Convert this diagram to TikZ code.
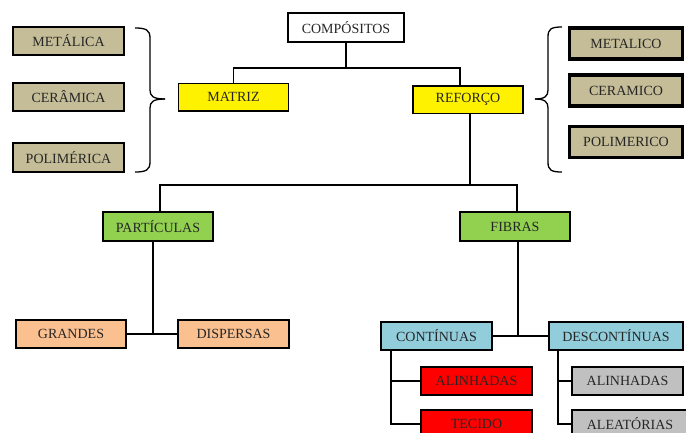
\documentclass[tikz,border=0pt]{standalone}
\usepackage{fontspec}
\setmainfont{Liberation Serif}
\definecolor{tanfill}{HTML}{C4BD97}
\definecolor{greenfill}{HTML}{92D050}
\definecolor{peachfill}{HTML}{FAC090}
\definecolor{bluefill}{HTML}{92CDDC}
\definecolor{grayfill}{HTML}{C0C0C0}
\definecolor{txt}{HTML}{262626}
\begin{document}
\begin{tikzpicture}[x=1pt,y=-1pt,
  basebox/.style={draw=black, line width=1.5pt, inner sep=0pt, text=txt,
    font=\fontsize{14}{15}\selectfont, minimum height=28pt},
  whitebox/.style={basebox, fill=white, minimum width=116pt, minimum height=29pt},
  tanbox/.style={basebox, fill=tanfill, minimum width=111pt},
  thickbox/.style={basebox, fill=tanfill, line width=3.2pt, minimum width=113pt, minimum height=31pt},
  yellowbox/.style={basebox, fill=yellow, minimum width=110pt, minimum height=27.5pt},
  greenbox/.style={basebox, fill=greenfill, minimum width=110pt, minimum height=29pt},
  peachbox/.style={basebox, fill=peachfill, minimum width=110pt},
  bluebox/.style={basebox, fill=bluefill, minimum width=111pt},
  redbox/.style={basebox, fill=red, minimum width=111pt},
  graybox/.style={basebox, fill=grayfill, minimum width=111pt},
  link/.style={draw=black, line width=1.4pt},
  bracepath/.style={draw=black, line width=1.3pt}]
\useasboundingbox (0,0) rectangle (686,432);
\clip (0,0) rectangle (686,432);
\fill[white] (0,0) rectangle (686,432);

% nodes
\node[whitebox] (comp) at (346,27.5) {COMPÓSITOS};
\node[tanbox] (metA) at (68.5,41) {METÁLICA};
\node[tanbox] (cerA) at (68.5,97) {CERÂMICA};
\node[tanbox, minimum height=29pt] (polA) at (68.5,157.5) {POLIMÉRICA};
\node[yellowbox] (mat) at (233.5,97) {MATRIZ};
\node[yellowbox] (ref) at (468,99.5) {REFORÇO};
\node[thickbox] (metB) at (626,43.5) {METALICO};
\node[thickbox] (cerB) at (626,90.5) {CERAMICO};
\node[thickbox] (polB) at (626,142) {POLIMERICO};
\node[greenbox] (part) at (158,226.5) {PARTÍCULAS};
\node[greenbox] (fib) at (515,226.5) {FIBRAS};
\node[peachbox] (gra) at (71,334) {GRANDES};
\node[peachbox, minimum width=111pt] (dis) at (233.5,334) {DISPERSAS};
\node[bluebox] (cont) at (436.5,336) {CONTÍNUAS};
\node[bluebox, minimum width=134pt] (desc) at (616,336) {DESCONTÍNUAS};
\node[redbox] (alinA) at (476.5,381) {ALINHADAS};
\node[redbox] (tec) at (476.5,424) {TECIDO};
\node[graybox] (alinB) at (627.5,381) {ALINHADAS};
\node[graybox, minimum width=116pt] (alea) at (630,424) {ALEATÓRIAS};

% connectors
\coordinate (j1) at (346,68);
\draw[link] (comp.south) -- (j1);
\draw[link] (mat.north) |- (j1);
\draw[link] ([xshift=-8pt]ref.north) |- (j1);

\coordinate (j2) at (470,185);
\draw[link] ([xshift=2pt]ref.south) -- (j2);
\draw[link] ([xshift=2pt]part.north) |- (j2);
\draw[link] ([xshift=2pt]fib.north) |- (j2);

\coordinate (j3) at ([xshift=-5pt]part.south |- gra.east);
\draw[link] ([xshift=-5pt]part.south) -- (j3);
\draw[link] (gra.east) -- (dis.west);

\coordinate (j4) at ([xshift=3pt]fib.south |- cont.east);
\draw[link] ([xshift=3pt]fib.south) -- (j4);
\draw[link] (cont.east) -- (desc.west);

\coordinate (c1) at (391,350);
\draw[link] (cont.south -| c1) |- (tec.west);
\draw[link] (alinA.west) -- (alinA.west -| c1);

\coordinate (c2) at (558,350);
\draw[link] (desc.south -| c2) |- (alea.west);
\draw[link] (alinB.west) -- (alinB.west -| c2);

% braces
\draw[bracepath] (135,28) .. controls (146,28) and (150,30) .. (150,38) -- (150,90)
  .. controls (150,96) and (153,99) .. (165,99);
\draw[bracepath] (165,99) .. controls (153,99) and (150,102) .. (150,108) -- (150,162)
  .. controls (150,170) and (146,172) .. (135,172);
\draw[bracepath] (562,27) .. controls (551,27) and (548,29) .. (548,37) -- (548,90)
  .. controls (548,96) and (545,99) .. (535,99);
\draw[bracepath] (535,99) .. controls (545,99) and (548,102) .. (548,108) -- (548,162)
  .. controls (548,170) and (551,172) .. (562,172);
\end{tikzpicture}
\end{document}
